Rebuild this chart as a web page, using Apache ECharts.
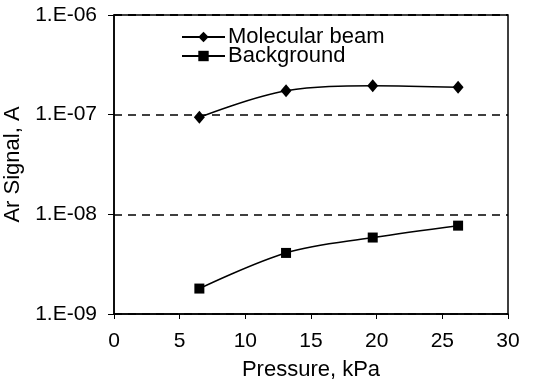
<!DOCTYPE html>
<html>
<head>
<meta charset="utf-8">
<script src="https://cdn.jsdelivr.net/npm/echarts@6/dist/echarts.min.js"></script>
<style>
html, body { margin: 0; padding: 0; background: #fff; }
#chart { width: 533px; height: 385px; }
</style>
</head>
<body>
<div id="chart"></div>
<script>
// pressure, kPa
var pressure = [6.5, 13.1, 19.7, 26.2];
var beamSignal = [9.4e-8, 1.74e-7, 1.95e-7, 1.88e-7];
var backgroundSignal = [1.8e-9, 4.1e-9, 5.85e-9, 7.7e-9];
var seriesNames = ['Molecular beam', 'Background'];
var yTickLabels = { '-9': '1.E-09', '-8': '1.E-08', '-7': '1.E-07', '-6': '1.E-06' };

function pairs(xs, ys) {
	var out = [];
	for (var i = 0; i < xs.length; i++) out.push([xs[i], ys[i]]);
	return out;
}

var myChart = echarts.init(document.getElementById('chart'));
var font = 'Liberation Sans, Arial, sans-serif';

option = {
	animation: false,
	backgroundColor: '#fff',
	textStyle: { fontFamily: font, color: '#000' },
	grid: {
		left: 114, right: 25, top: 15, bottom: 71,
		containLabel: false,
		outerBoundsMode: 'none',
		show: true, borderColor: '#000', borderWidth: 1.5
	},
	legend: {
		orient: 'vertical',
		left: 176,
		top: 21,
		itemWidth: 43,
		itemHeight: 13,
		itemGap: -3,
		textStyle: { fontFamily: font, fontSize: 22, color: '#000', padding: [0, 0, 0, -2] },
		data: seriesNames
	},
	xAxis: {
		type: 'value',
		min: 0, max: 30, interval: 5,
		name: 'Pressure, kPa',
		nameLocation: 'middle',
		nameGap: 45,
		nameTextStyle: { fontFamily: font, fontSize: 22, color: '#000' },
		axisLine: { lineStyle: { color: '#000', width: 1.5 } },
		axisTick: { show: true, length: 5, lineStyle: { color: '#000' } },
		axisLabel: { fontFamily: font, fontSize: 21, color: '#000', margin: 17 },
		splitLine: { show: false }
	},
	yAxis: {
		type: 'log',
		logBase: 10,
		min: 1e-9, max: 1e-6,
		name: 'Ar Signal, A',
		nameLocation: 'middle',
		nameGap: 88,
		nameTextStyle: { fontFamily: font, fontSize: 22, color: '#000' },
		axisLine: { lineStyle: { color: '#000', width: 1.5 } },
		axisTick: { show: true, length: 6, lineStyle: { color: '#000' } },
		axisLabel: {
			fontFamily: font, fontSize: 21, color: '#000', margin: 17,
			formatter: function (v) {
				var e = Math.round(Math.log10(v));
				return yTickLabels[String(e)] || '';
			}
		},
		splitLine: { show: true, lineStyle: { color: '#000', width: 1.5, type: [8, 6] } }
	},
	series: [
		{
			name: seriesNames[0],
			type: 'line',
			smooth: 0.35,
			symbol: 'diamond',
			symbolSize: [11, 13],
			itemStyle: { color: '#000' },
			lineStyle: { color: '#000', width: 1.5 },
			data: pairs(pressure, beamSignal)
		},
		{
			name: seriesNames[1],
			type: 'line',
			smooth: 0.35,
			symbol: 'rect',
			symbolSize: 10,
			itemStyle: { color: '#000' },
			lineStyle: { color: '#000', width: 1.5 },
			data: pairs(pressure, backgroundSignal)
		}
	]
};
myChart.setOption(option);
</script>
</body>
</html>
